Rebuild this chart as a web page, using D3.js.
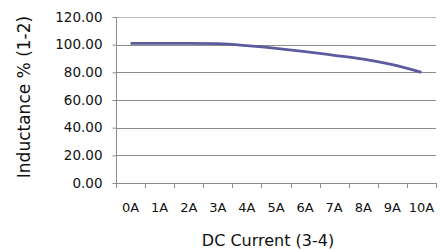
<!DOCTYPE html>
<html>
<head>
<meta charset="utf-8">
<script src="https://cdn.jsdelivr.net/npm/d3@7"></script>
<style>
  body { margin: 0; background: #fff; }
  svg text { fill: #111; }
</style>
</head>
<body>
<div class="chart"></div>
<script>
// data
var categories = ["0A", "1A", "2A", "3A", "4A", "5A", "6A", "7A", "8A", "9A", "10A"];
var inductance = [101, 101, 101, 100.7, 99.3, 97.3, 95, 92.3, 89.5, 85.5, 80];
var yTicks = [0, 20, 40, 60, 80, 100, 120];

var W = 440, H = 250;
var margin = {left: 116, right: 4, top: 17, bottom: 67};
var FONT = "'DejaVu Sans', sans-serif";

var svg = d3.select(".chart").append("svg")
    .attr("width", W)
    .attr("height", H);

var x = d3.scaleBand()
    .domain(categories)
    .range([margin.left, W - margin.right]);

var y = d3.scaleLinear()
    .domain([0, 120])
    .range([H - margin.bottom, margin.top]);

// gridlines
svg.append("g").selectAll("line").data(yTicks).enter()
    .append("line")
    .attr("x1", margin.left)
    .attr("x2", W - margin.right)
    .attr("y1", function(d) { return Math.round(y(d)) + 0.5; })
    .attr("y2", function(d) { return Math.round(y(d)) + 0.5; })
    .style("stroke", function(d) { return d == 120 ? "#b8b8b8" : "#8c8c8c"; })
    .style("stroke-width", 1);

// y axis
var yAxis = svg.append("g")
    .attr("transform", "translate(" + (margin.left + 0.5) + ",0)")
    .call(d3.axisLeft(y).tickValues(yTicks).tickSize(4).tickFormat(d3.format(".2f")));
yAxis.select(".domain").remove();
yAxis.selectAll(".tick line").style("stroke", "#8c8c8c");
yAxis.selectAll("text")
    .attr("x", -14)
    .style("font-family", FONT)
    .style("font-size", "13.5px");
svg.append("line")
    .attr("x1", margin.left + 0.5).attr("x2", margin.left + 0.5)
    .attr("y1", margin.top).attr("y2", Math.round(y(0)) + 4)
    .style("stroke", "#8c8c8c");

// x axis: ticks between categories
var bounds = categories.map(function(c) { return x(c); }).concat([x.range()[1]]);
svg.append("g").selectAll("line").data(bounds).enter()
    .append("line")
    .attr("x1", function(d) { return Math.round(d) + 0.5; })
    .attr("x2", function(d) { return Math.round(d) + 0.5; })
    .attr("y1", Math.round(y(0)))
    .attr("y2", Math.round(y(0)) + 5)
    .style("stroke", "#8c8c8c");

svg.append("g").selectAll("text").data(categories).enter()
    .append("text")
    .attr("x", function(d) { return x(d) + x.bandwidth() / 2; })
    .attr("y", 211.5)
    .attr("text-anchor", "middle")
    .style("font-family", FONT)
    .style("font-size", "13px")
    .text(function(d) { return d; });

// the series
var line = d3.line()
    .x(function(d, i) { return x(categories[i]) + x.bandwidth() / 2; })
    .y(function(d) { return y(d); })
    .curve(d3.curveMonotoneX);

svg.append("path")
    .datum(inductance)
    .attr("d", line)
    .style("fill", "none")
    .style("stroke", "#5b5b9e")
    .style("stroke-width", 2.8);

// axis titles
svg.append("text")
    .attr("x", 268)
    .attr("y", 246)
    .attr("text-anchor", "middle")
    .style("font-family", FONT)
    .style("font-size", "16px")
    .text("DC Current (3-4)");

svg.append("text")
    .attr("transform", "translate(30,97) rotate(-90)")
    .attr("text-anchor", "middle")
    .style("font-family", FONT)
    .style("font-size", "17px")
    .text("Inductance % (1-2)");
</script>
</body>
</html>
